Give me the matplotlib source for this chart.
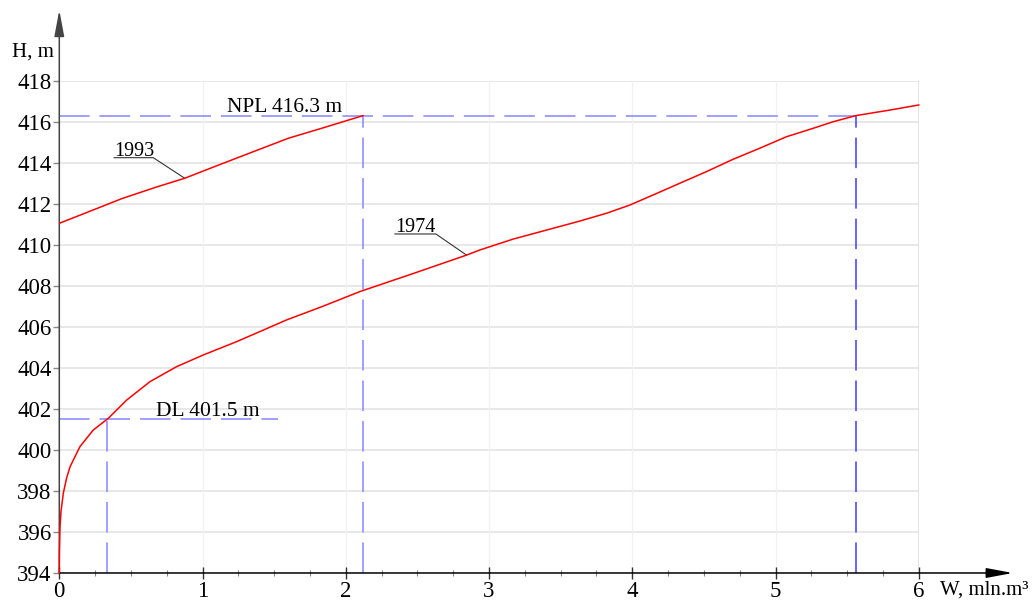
import numpy as np
import matplotlib.pyplot as plt

plt.rcParams['font.family'] = ['Liberation Serif', 'DejaVu Serif']
plt.rcParams['font.size'] = 14.5

# Кривые объёмов водохранилища W(H)
w_1974 = [0, 0.001, 0.005, 0.012, 0.028, 0.05, 0.075, 0.144, 0.237, 0.342, 0.47,
          0.633, 0.819, 1.005, 1.238, 1.40, 1.587, 1.831, 2.098, 2.47, 2.843, 2.936,
          3.168, 3.401, 3.634, 3.82, 3.983, 4.145, 4.331, 4.518, 4.703, 4.89, 5.076,
          5.262, 5.401, 5.56, 5.797, 6.0]
h_1974 = [394, 395.0, 396.26, 397.0, 397.89, 398.6, 399.18, 400.16, 400.97, 401.54,
          402.43, 403.33, 404.06, 404.63, 405.28, 405.77, 406.34, 406.98, 407.72,
          408.6, 409.5, 409.75, 410.28, 410.72, 411.16, 411.54, 411.94, 412.43, 413.0,
          413.57, 414.17, 414.71, 415.27, 415.68, 416.0, 416.3, 416.57, 416.82]

w_1993 = [0, 0.2, 0.435, 0.67, 0.877, 1.06, 1.32, 1.6, 1.83, 2.12]
h_1993 = [411.05, 411.6, 412.25, 412.8, 413.25, 413.75, 414.45, 415.2, 415.68, 416.3]

npl = 416.3
dl = 401.5
w_npl_1993 = 2.12
w_npl_1974 = 5.56
w_dl_1974 = 0.335

fig = plt.figure(figsize=(10.33, 6.01), dpi=100)
ax = fig.add_axes([0.0574, 0.0466, 0.832, 0.819])

ax.set_xlim(0, 6)
ax.set_ylim(394, 418)
ax.set_xticks(np.arange(0, 7, 1))
ax.set_xticks(np.arange(0, 6.01, 0.25), minor=True)
ax.set_yticks(np.arange(394, 419, 2))

# сетка
for y in np.arange(396, 419, 2):
    ax.axhline(y, color='#e6e6e6', lw=1.3, zorder=0)
for x in range(1, 6):
    ax.axvline(x, color='#f1f1f1', lw=0.9, zorder=0)
ax.axvline(6, color='#dcdcdc', lw=1.1, zorder=0)

for s in ['top', 'right', 'left', 'bottom']:
    ax.spines[s].set_visible(False)

ax.tick_params(axis='x', which='major', direction='inout', length=8, width=1,
               color='#333333', pad=2, labelsize=16.5)
ax.tick_params(axis='x', which='minor', direction='inout', length=4, width=0.8,
               color='#888888')
ax.tick_params(axis='y', which='major', direction='out', length=4, width=1,
               color='#888888', pad=1.5, labelsize=16.5)

# оси со стрелками
arrow = dict(arrowstyle='-|>,head_length=0.8,head_width=0.15', mutation_scale=20,
             color='black', lw=1.1, shrinkA=0, shrinkB=0)
ax.annotate('', xy=(0, 1.1436), xytext=(0, 0), xycoords='axes fraction',
            arrowprops=dict(arrow, color='#444444'), annotation_clip=False)
ax.annotate('', xy=(1.1093, 0), xytext=(0, 0), xycoords='axes fraction',
            arrowprops=arrow, annotation_clip=False)

# НПУ и УМО
dash = (0, (20, 6.5))
ax.plot([0, w_npl_1974], [npl, npl], color='#8585ff', lw=1.1, ls=dash, zorder=2)
ax.plot([w_npl_1993, w_npl_1993], [394, npl], color='#8585ff', lw=1.1, ls=dash, zorder=2)
ax.plot([w_npl_1974, w_npl_1974], [394, npl], color='#3c3cff', lw=1.1, ls=dash, zorder=2)
ax.plot([0, 1.524], [dl, dl], color='#8585ff', lw=1.1, ls=dash, zorder=2)
ax.plot([w_dl_1974, w_dl_1974], [394, dl], color='#8585ff', lw=1.1, ls=dash, zorder=2)

ax.text(1.57, npl + 0.18, 'NPL 416.3 m', ha='center', va='baseline', fontsize=15.5)
ax.text(1.034, dl + 0.16, 'DL 401.5 m', ha='center', va='baseline', fontsize=15.5)

ax.plot(w_1974, h_1974, color='red', lw=1.1, zorder=3, clip_on=False)
ax.plot(w_1993, h_1993, color='red', lw=1.1, zorder=3)

# подписи кривых с выносками
ax.plot([0.383, 0.656, 0.877], [414.25, 414.25, 413.24], color='#333333', lw=0.8)
ax.text(0.385, 414.33, '1993', ha='left', va='baseline', fontsize=14.5)
ax.plot([2.343, 2.629, 2.843], [410.53, 410.53, 409.5], color='#333333', lw=0.8)
ax.text(2.345, 410.61, '1974', ha='left', va='baseline', fontsize=14.5)

fig.text(12 / 1033, 1 - 57 / 601, 'H, m', ha='left', va='baseline', fontsize=15)
fig.text(940 / 1033, 1 - 595 / 601, 'W, mln.m³', ha='left', va='baseline', fontsize=15)

fig.savefig('out.png', dpi=100)
